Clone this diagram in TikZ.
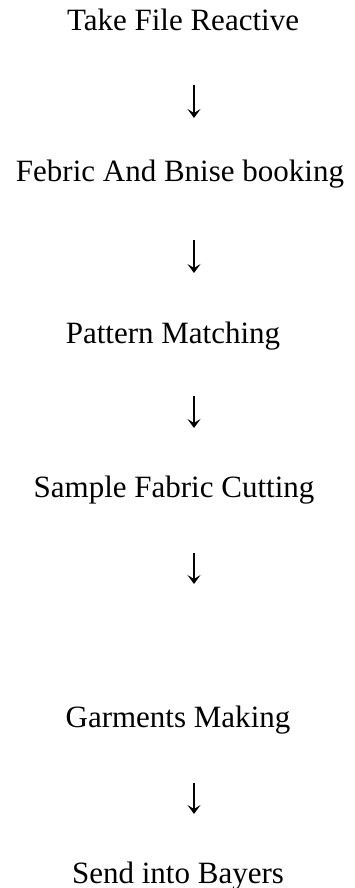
\documentclass[tikz,border=0pt]{standalone}
\usepackage{fontspec}
\setmainfont{Liberation Serif}
\usetikzlibrary{positioning,arrows.meta}

\begin{document}
\begin{tikzpicture}[x=1pt,y=-1pt,
  stage/.style={font=\fontsize{31}{36}\selectfont,anchor=base,inner sep=0pt},
  down/.style={-{Stealth[length=9pt,width=13pt,inset=4pt]},line width=1.5pt}]

  \useasboundingbox (0,0) rectangle (354,888);

  \node[stage] (TF) at (183,31) {Take File Reactive};
  \node[stage] (FB) at (180,181) {Febric And Bnise booking};
  \node[stage] (PM) at (173,343) {Pattern Matching};
  \node[stage] (SC) at (174,497) {Sample Fabric Cutting};
  \node[stage] (GM) at (178,727) {Garments Making};
  \node[stage] (SB) at (178,883) {Send into Bayers};

  % arrow ends
  \coordinate (A1) at (194,85);  \coordinate (B1) at (194,118);
  \coordinate (A2) at (194,240); \coordinate (B2) at (194,273);
  \coordinate (A3) at (194,396); \coordinate (B3) at (194,428);
  \coordinate (A4) at (194,553); \coordinate (B4) at (194,584);
  \coordinate (A5) at (194,783); \coordinate (B5) at (194,814);

  \foreach \i in {1,...,5}
    \draw[down] (A\i) -- (B\i);

\end{tikzpicture}
\end{document}
